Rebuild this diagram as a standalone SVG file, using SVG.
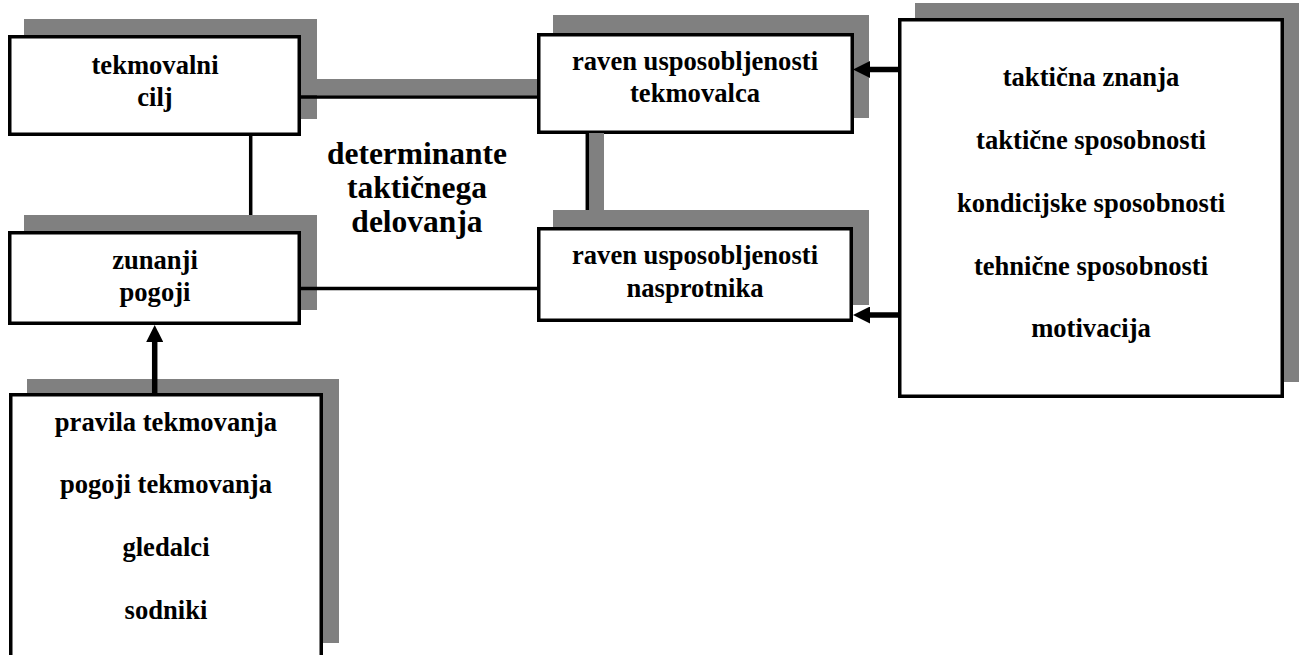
<svg xmlns="http://www.w3.org/2000/svg" width="1302" height="655" viewBox="0 0 1302 655">
<style>
.bg{fill:#ffffff}
.sh{fill:#808080}
.box{fill:#ffffff;stroke:#000000;stroke-width:3.5}
.t{font-family:"Liberation Serif","Times New Roman",serif;font-weight:bold;font-size:26.6px;fill:#000000;text-anchor:middle}
.big{font-size:31.5px}
.ln{stroke:#000000;stroke-width:3.5;fill:none}
.ar{stroke:#000000;stroke-width:5.5;fill:none;marker-end:url(#ah)}
</style>
<defs>
<marker id="ah" markerUnits="userSpaceOnUse" markerWidth="17" markerHeight="17" viewBox="0 0 17 17" refX="0" refY="8.5" orient="auto">
<path d="M0,0 L17,8.5 L0,17 Z" fill="#000000"/>
</marker>
</defs>
<rect class="bg" x="0" y="0" width="1302" height="655"/>
<g id="node-tekmovalni-cilj">
<rect class="sh" x="24" y="19" width="293" height="100"/>
<rect class="box" x="9.75" y="36.75" width="289.5" height="97.5"/>
<text class="t" x="155" y="74">tekmovalni</text>
<text class="t" x="155" y="106">cilj</text>
</g>
<g id="node-zunanji-pogoji">
<rect class="sh" x="24" y="215" width="293" height="95"/>
<rect class="box" x="9.75" y="232.75" width="289.5" height="90.5"/>
<text class="t" x="155" y="269">zunanji</text>
<text class="t" x="155" y="301">pogoji</text>
</g>
<g id="node-tekmovalca">
<rect class="sh" x="553" y="15" width="316" height="103"/>
<rect class="box" x="538.75" y="34.75" width="313.5" height="97.5"/>
<text class="t" x="695" y="69.5">raven usposobljenosti</text>
<text class="t" x="695" y="101.7">tekmovalca</text>
</g>
<g id="node-nasprotnika">
<rect class="sh" x="553" y="210" width="316" height="95"/>
<rect class="box" x="538.75" y="228.75" width="312.5" height="91.5"/>
<text class="t" x="695" y="264">raven usposobljenosti</text>
<text class="t" x="695" y="296.5">nasprotnika</text>
</g>
<g id="node-sposobnosti">
<rect class="sh" x="915" y="3" width="384" height="379"/>
<rect class="box" x="899.75" y="19.75" width="382.5" height="376.5"/>
<text class="t" x="1091" y="86">taktična znanja</text>
<text class="t" x="1091" y="148.5">taktične sposobnosti</text>
<text class="t" x="1091" y="211.5">kondicijske sposobnosti</text>
<text class="t" x="1091" y="274.5">tehnične sposobnosti</text>
<text class="t" x="1091" y="337">motivacija</text>
</g>
<g id="node-pogoji-tekmovanja">
<rect class="sh" x="27" y="379" width="312" height="264"/>
<rect class="box" x="10.75" y="394.75" width="310.5" height="280"/>
<text class="t" x="166" y="431">pravila tekmovanja</text>
<text class="t" x="166" y="493">pogoji tekmovanja</text>
<text class="t" x="166" y="555.5">gledalci</text>
<text class="t" x="166" y="619">sodniki</text>
</g>
<g id="label-determinante">
<text class="t big" x="417" y="163.5">determinante</text>
<text class="t big" x="417" y="197.5">taktičnega</text>
<text class="t big" x="417" y="231.5">delovanja</text>
</g>
<g id="connectors">
<rect class="sh" x="317" y="79" width="220" height="16"/>
<rect class="sh" x="589" y="133" width="15" height="77"/>
<path class="ln" d="M301,97 H537"/>
<path class="ln" d="M587.3,134 V210"/>
<path class="ln" d="M250.7,136 V215"/>
<path class="ln" d="M301,288.5 H537"/>
<path class="ar" d="M898,69.5 H870"/>
<path class="ar" d="M898,315 H870"/>
<path class="ar" d="M154.7,393 V342"/>
</g>
</svg>
